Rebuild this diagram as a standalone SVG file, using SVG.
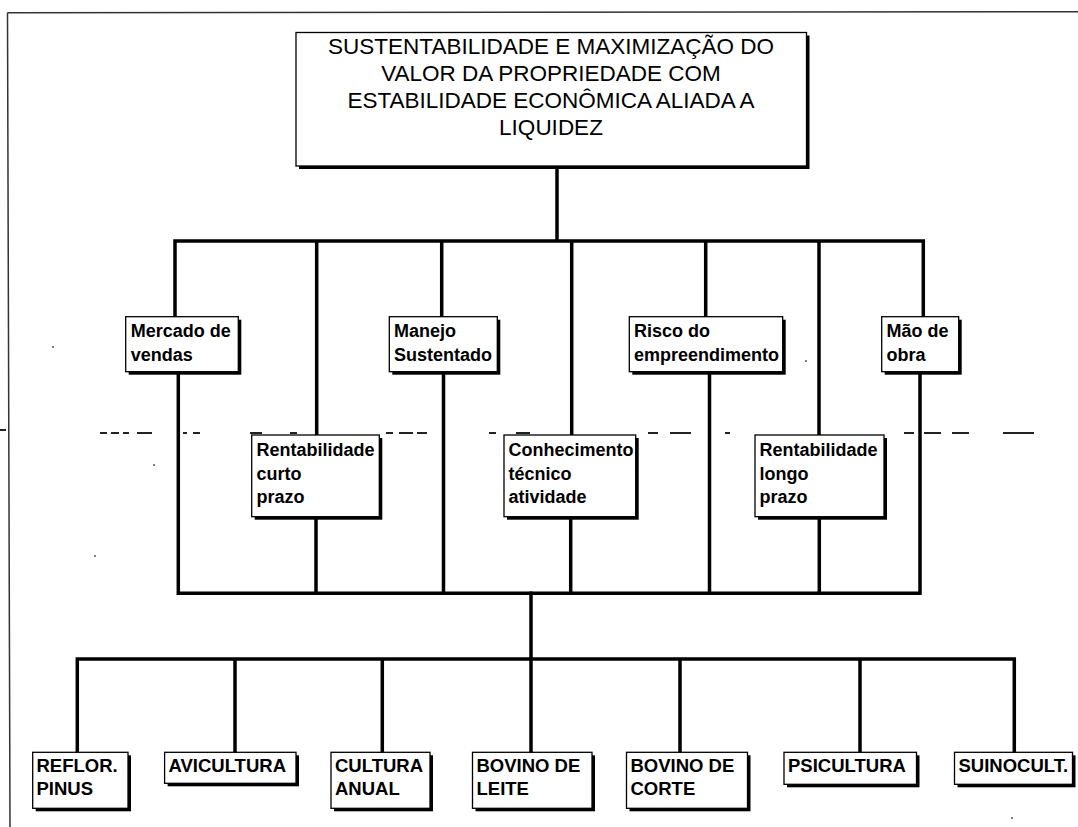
<svg xmlns="http://www.w3.org/2000/svg" width="1078" height="827" viewBox="0 0 1078 827">
<style>
.box{fill:#fff;stroke:#000;stroke-width:1.3}
.sh{fill:#000}
.conn{stroke:#000;stroke-width:3.5;fill:none;stroke-linecap:square}
.t{font-family:"Liberation Sans",Arial,sans-serif;fill:#000}
.title{font-size:22.5px;text-anchor:middle}
.mid{font-size:18px;font-weight:bold}
.bot{font-size:18.5px;font-weight:bold}
.frame{stroke:#333;stroke-width:1.5;fill:none}
.dash{stroke:#222;stroke-width:2;fill:none}
.dot{fill:#555}
</style>
<rect width="1078" height="827" fill="#fff"/>
<g id="frame">
<path class="frame" d="M7.5,12.7 L1078,11.7 M7.5,12.7 L10,827"/>
<path class="dash" d="M0,430 h6 M100,433 h7 M111,433 h8 M123,433 h6 M137,433 h15 M183,433 h4 M193,433 h7 M250,433 h12 M290,433 h7 M386,433 h7 M399,433 h14 M417,433 h10 M489,433 h7 M516,433 h14 M648,433 h10 M670,433 h21 M725,433 h5 M904,433 h10 M924,433 h17 M952,433 h17 M1003,433 h31"/>
<circle class="dot" cx="53" cy="347" r="1"/>
<circle class="dot" cx="154" cy="465" r="1"/>
<circle class="dot" cx="95" cy="556" r="1"/>
<circle class="dot" cx="806" cy="361" r="1"/>
<circle class="dot" cx="1012" cy="818" r="1"/>
</g>
<g id="connectors">
<path class="conn" d="M557,167 V241 M175,241 H923.3 M175,241 V316.7 M316.7,241 V435 M441.7,241 V316.7 M571.7,241 V435 M705.7,241 V316.7 M819,241 V435 M923.3,241 V316.7"/>
<path class="conn" d="M178.3,593.3 H920 M178.3,372 V593.3 M316,517 V593.3 M443.5,372 V593.3 M570.7,517 V593.3 M709.5,372 V593.3 M819.3,517 V593.3 M920,372 V593.3"/>
<path class="conn" d="M531,593.3 V752 M77.3,659 H1014.3 M77.3,659 V752 M235,659 V752 M382.3,659 V752 M680,659 V752 M860,659 V752 M1014.3,659 V752"/>
</g>
<g id="n-title">
<rect class="sh" x="299" y="35.5" width="510.5" height="133.5"/>
<rect class="box" x="296" y="32.5" width="510.5" height="133.5"/>
<text class="t title" x="551" y="54">SUSTENTABILIDADE E MAXIMIZAÇÃO DO</text>
<text class="t title" x="551" y="81">VALOR DA PROPRIEDADE COM</text>
<text class="t title" x="551" y="108">ESTABILIDADE ECONÔMICA ALIADA A</text>
<text class="t title" x="551" y="135">LIQUIDEZ</text>
</g>
<g id="n-mercado">
<rect class="sh" x="128.7" y="319.7" width="112.6" height="55"/>
<rect class="box" x="125.7" y="316.7" width="112.6" height="55"/>
<text class="t mid" x="130.7" y="337">Mercado de</text>
<text class="t mid" x="130.7" y="361">vendas</text>
</g>
<g id="n-manejo">
<rect class="sh" x="392.3" y="319.7" width="108" height="55"/>
<rect class="box" x="389.3" y="316.7" width="108" height="55"/>
<text class="t mid" x="394" y="337">Manejo</text>
<text class="t mid" x="394" y="361">Sustentado</text>
</g>
<g id="n-risco">
<rect class="sh" x="632.3" y="319.7" width="153.4" height="55"/>
<rect class="box" x="629.3" y="316.7" width="153.4" height="55"/>
<text class="t mid" x="634" y="337">Risco do</text>
<text class="t mid" x="634" y="361">empreendimento</text>
</g>
<g id="n-mao">
<rect class="sh" x="884.7" y="319.7" width="77" height="55"/>
<rect class="box" x="881.7" y="316.7" width="77" height="55"/>
<text class="t mid" x="886.5" y="337">Mão de</text>
<text class="t mid" x="886.5" y="361">obra</text>
</g>
<g id="n-rent-curto">
<rect class="sh" x="254.7" y="438" width="127.6" height="81.7"/>
<rect class="box" x="251.7" y="435" width="127.6" height="81.7"/>
<text class="t mid" x="256.5" y="456">Rentabilidade</text>
<text class="t mid" x="256.5" y="480">curto</text>
<text class="t mid" x="256.5" y="503">prazo</text>
</g>
<g id="n-conhecimento">
<rect class="sh" x="507" y="438" width="131.7" height="81.7"/>
<rect class="box" x="504" y="435" width="131.7" height="81.7"/>
<text class="t mid" x="508.5" y="456">Conhecimento</text>
<text class="t mid" x="508.5" y="480">técnico</text>
<text class="t mid" x="508.5" y="503">atividade</text>
</g>
<g id="n-rent-longo">
<rect class="sh" x="758" y="438" width="129" height="81.7"/>
<rect class="box" x="755" y="435" width="129" height="81.7"/>
<text class="t mid" x="759.5" y="456">Rentabilidade</text>
<text class="t mid" x="759.5" y="480">longo</text>
<text class="t mid" x="759.5" y="503">prazo</text>
</g>
<g id="n-reflor">
<rect class="sh" x="35.7" y="755.3" width="95.3" height="56"/>
<rect class="box" x="32.7" y="752.3" width="95.3" height="56"/>
<text class="t bot" x="36.5" y="772">REFLOR.</text>
<text class="t bot" x="36.5" y="795">PINUS</text>
</g>
<g id="n-avicultura">
<rect class="sh" x="167.6" y="755.3" width="131.4" height="31"/>
<rect class="box" x="164.6" y="752.3" width="131.4" height="31"/>
<text class="t bot" x="168.5" y="772">AVICULTURA</text>
</g>
<g id="n-cultura">
<rect class="sh" x="334" y="755.3" width="99" height="56"/>
<rect class="box" x="331" y="752.3" width="99" height="56"/>
<text class="t bot" x="335" y="772">CULTURA</text>
<text class="t bot" x="335" y="795">ANUAL</text>
</g>
<g id="n-leite">
<rect class="sh" x="475.5" y="755.3" width="119.5" height="56"/>
<rect class="box" x="472.5" y="752.3" width="119.5" height="56"/>
<text class="t bot" x="476.5" y="772">BOVINO DE</text>
<text class="t bot" x="476.5" y="795">LEITE</text>
</g>
<g id="n-corte">
<rect class="sh" x="629.5" y="755.3" width="121" height="56"/>
<rect class="box" x="626.5" y="752.3" width="121" height="56"/>
<text class="t bot" x="630.5" y="772">BOVINO DE</text>
<text class="t bot" x="630.5" y="795">CORTE</text>
</g>
<g id="n-psicultura">
<rect class="sh" x="787" y="755.3" width="132.5" height="32"/>
<rect class="box" x="784" y="752.3" width="132.5" height="32"/>
<text class="t bot" x="788" y="772">PSICULTURA</text>
</g>
<g id="n-suinocult">
<rect class="sh" x="957.5" y="755.3" width="118" height="32"/>
<rect class="box" x="954.5" y="752.3" width="118" height="32"/>
<text class="t bot" x="958.5" y="772">SUINOCULT.</text>
</g>
</svg>
